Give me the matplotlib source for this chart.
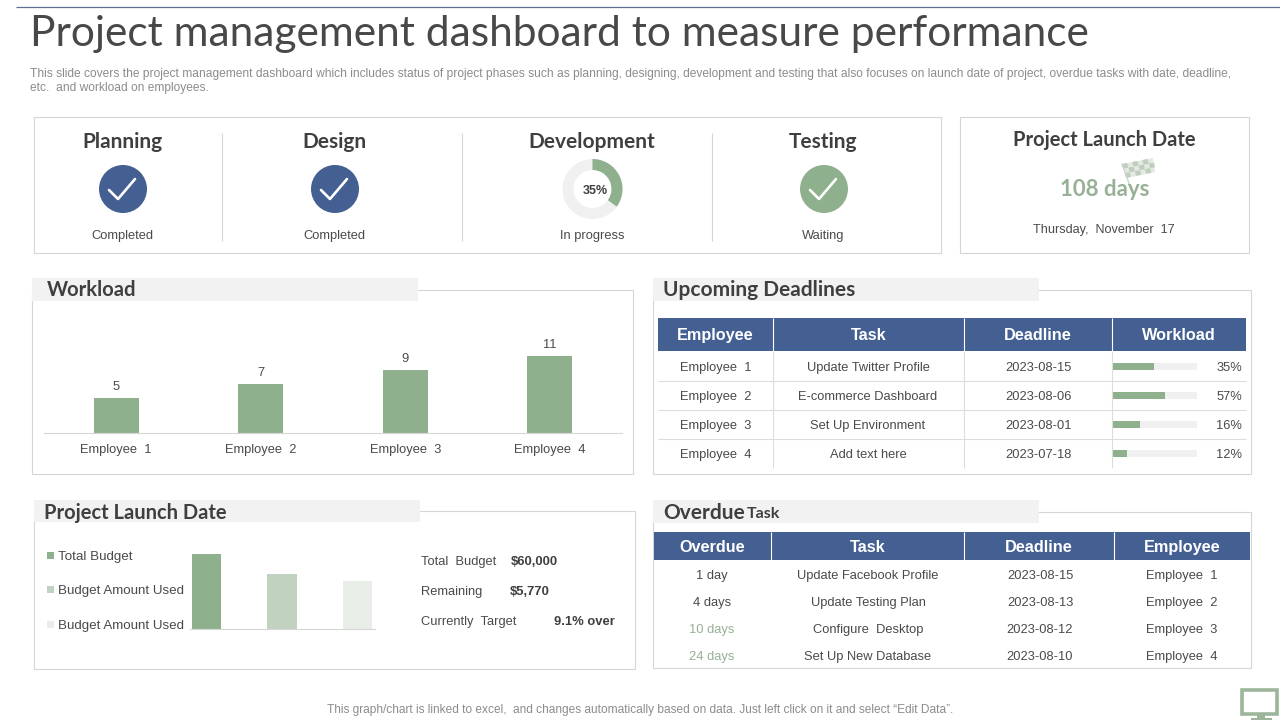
import matplotlib
matplotlib.use("Agg")
import matplotlib.pyplot as plt
from matplotlib.patches import Circle, Polygon, Rectangle, Wedge

BLUE = "#445f92"
GREEN = "#8fb08c"
GREEN_MID = "#c2d2c1"
GREEN_PALE = "#e9ede8"
TRACK = "#f0f0f0"
BORDER = "#d6d6d6"
DARK = "#3f3f3f"
BODY = "#4a4a4a"
GREY = "#8c8c8c"
HEAD_FONT = "Lato"
BODY_FONT = "Liberation Sans"

# status strip
phases = ["Planning", "Design", "Development", "Testing"]
phase_status = ["Completed", "Completed", "In progress", "Waiting"]
dev_progress = 35

# workload chart
employees = ["Employee  1", "Employee  2", "Employee  3", "Employee  4"]
workload_tasks = [5, 7, 9, 11]

# budget chart
budget_labels = ["Total Budget", "Budget Amount Used", "Budget Amount Used"]
budget_values = [60000, 44000, 38400]
budget_summary = ["Total  Budget", "Remaining", "Currently  Target"]
budget_figures = ["$60,000", "$5,770", "9.1% over"]

# upcoming deadlines table
upcoming_head = ["Employee", "Task", "Deadline", "Workload"]
upcoming_tasks = ["Update Twitter Profile", "E-commerce Dashboard", "Set Up Environment", "Add text here"]
upcoming_dates = ["2023-08-15", "2023-08-06", "2023-08-01", "2023-07-18"]
upcoming_pct = [35, 57, 16, 12]
upcoming_fill = [49, 62, 33, 17]  # drawn length of the bars, does not follow the printed %

# overdue table
overdue_head = ["Overdue", "Task", "Deadline", "Employee"]
overdue_days = ["1 day", "4 days", "10 days", "24 days"]
overdue_tasks = ["Update Facebook Profile", "Update Testing Plan", "Configure  Desktop", "Set Up New Database"]
overdue_dates = ["2023-08-15", "2023-08-13", "2023-08-12", "2023-08-10"]

fig = plt.figure(figsize=(12.8, 7.2), dpi=100)
ax = fig.add_axes([0, 0, 1, 1])
ax.set_xlim(0, 1280)
ax.set_ylim(720, 0)
ax.axis("off")


def label(x, y, s, size=9.3, color=BODY, font=BODY_FONT, weight="normal", ha="center"):
    ax.text(x, y, s, fontsize=size, color=color, family=font, fontweight=weight, ha=ha, va="center_baseline")


def box(x0, y0, x1, y1):
    ax.add_patch(Rectangle((x0, y0), x1 - x0, y1 - y0, fc="white", ec=BORDER, lw=0.8))


def panel_title(x0, x1, y0, y1, text, tx, size=14.5, dy=0):
    ax.add_patch(Rectangle((x0, y0), x1 - x0, y1 - y0, fc="#f2f2f2", ec="none", zorder=2))
    ax.text(tx, (y0 + y1) / 2 + dy, text, fontsize=size, color=DARK, family=HEAD_FONT, fontweight="bold",
            ha="left", va="center_baseline", zorder=3)


def vline(x, y0, y1, color=BORDER, lw=0.8):
    ax.plot([x, x], [y0, y1], color=color, lw=lw, solid_capstyle="butt")


def hline(x0, x1, y, color=BORDER, lw=0.8):
    ax.plot([x0, x1], [y, y], color=color, lw=lw, solid_capstyle="butt")


def check_badge(cx, cy, color):
    ax.add_patch(Circle((cx, cy), 24, fc=color, ec="none"))
    ax.plot([cx - 14, cx - 5, cx + 12], [cy + 1, cy + 10, cy - 10], color="white", lw=1.9, solid_capstyle="round")


def header_row(edges, y0, y1, names, dy=0):
    ax.add_patch(Rectangle((edges[0], y0), edges[-1] - edges[0], y1 - y0, fc=BLUE, ec="none"))
    for i, name in enumerate(names):
        label((edges[i] + edges[i + 1]) / 2, (y0 + y1) / 2 + dy, name, size=11.7, color="white", weight="bold")
        if i:
            vline(edges[i], y0, y1, color="white", lw=0.8)


# title block
hline(16, 1280, 6.5, color="#5f7090", lw=0.9)
ax.text(30, 46, "Project management dashboard to measure performance", fontsize=30.6, color="#484848",
        family=HEAD_FONT, fontweight="normal", ha="left", va="baseline")
label(30, 73, "This slide covers the project management dashboard which includes status of project phases such as "
      "planning, designing, development and testing that also focuses on launch date of project, overdue tasks with date, deadline,",
      size=8.64, color=GREY, ha="left")
label(30, 87, "etc.  and workload on employees.", size=8.64, color=GREY, ha="left")

# status strip
box(34, 117, 941, 253)
phase_x = [122, 334, 592, 823]
for x, name, status in zip(phase_x, phases, phase_status):
    label(x, 140, name, size=15, color=DARK, font=HEAD_FONT, weight="bold")
    label(x, 235, status)
for x in [222, 462, 712]:
    vline(x, 133, 241)
check_badge(123, 189, BLUE)
check_badge(335, 189, BLUE)
check_badge(824, 189, GREEN)

# y axis is flipped here, so -90 deg is the top of the ring
ax.add_patch(Wedge((592.5, 189), 30, 0, 360, width=11, fc=TRACK, ec="none"))
ax.add_patch(Wedge((592.5, 189), 30, -90, -90 + dev_progress * 3.6, width=11, fc=GREEN, ec="none"))
label(595, 190, f"{dev_progress}%", size=9, color=DARK, weight="bold")

# launch date card
box(960, 117, 1249, 253)
label(1104, 138, "Project Launch Date", size=14.5, color=DARK, font=HEAD_FONT, weight="bold")
ax.add_patch(Polygon([(1122, 164), (1153, 158), (1155, 172), (1127, 178)], fc="#e4eae3", ec="none"))
for row in range(3):
    for col in range(6):
        if (row + col) % 2 == 0:
            x0 = 1122 + col * 5.1 + row * 1.3
            y0 = 164 + row * 4.6 - col * 1
            ax.add_patch(Polygon([(x0, y0), (x0 + 5.1, y0 - 1), (x0 + 6.4, y0 + 3.6), (x0 + 1.3, y0 + 4.6)],
                                 fc="#bfcebd", ec="none"))
ax.plot([1122, 1130], [164, 186], color="#c9d6c8", lw=1)
label(1105, 188, "108 days", size=16, color="#97b096", font=HEAD_FONT, weight="bold")
label(1104, 229, "Thursday,  November  17", size=9.1)

# workload panel
box(32, 290, 633, 474)
panel_title(32, 418, 278, 301, "Workload", 47, dy=-1)
bar_ax = fig.add_axes([44 / 1280, 1 - 433 / 720, 578 / 1280, 100 / 720])
bar_ax.bar(employees, workload_tasks, width=0.312, color=GREEN)
bar_ax.set_xlim(-0.5, 3.5)
bar_ax.set_ylim(0, 100 / 7)
bar_ax.patch.set_alpha(0)
for side in ["top", "left", "right"]:
    bar_ax.spines[side].set_visible(False)
bar_ax.spines["bottom"].set_color(BORDER)
bar_ax.set_yticks([])
bar_ax.tick_params(axis="x", length=0, pad=8, labelsize=9.3, labelcolor=BODY)
for tick in bar_ax.get_xticklabels():
    tick.set_family(BODY_FONT)
for i, v in enumerate(workload_tasks):
    bar_ax.annotate(str(v), (i, v), xytext=(0, 3.5), textcoords="offset points", ha="center", va="bottom",
                    fontsize=9.3, color=BODY, family=BODY_FONT)

# upcoming deadlines panel
box(653, 290, 1251, 474)
panel_title(653, 1039, 278, 301, "Upcoming Deadlines", 663, size=15, dy=-1)
up_edges = [658, 773, 964, 1112, 1246]
header_row(up_edges, 318, 351, upcoming_head, dy=-0.5)
up_rows = [366, 395, 424, 453]
for y in [380.5, 409.5, 438.5]:
    hline(658, 1246, y, color="#dcdcdc")
for x in up_edges[1:-1]:
    vline(x, 351, 468, color="#dcdcdc")
track_x0, track_len = 1112.5, 84
for y, name, task, date, pct, fill in zip(up_rows, employees, upcoming_tasks, upcoming_dates, upcoming_pct, upcoming_fill):
    label(716, y + 0.5, name)
    label(868, y + 0.5, task)
    label(1039, y + 0.5, date)
    ax.add_patch(Rectangle((track_x0, y - 3.5), track_len, 7.5, fc=TRACK, ec="none"))
    ax.add_patch(Rectangle((track_x0, y - 3.5), track_len * fill / 100, 7.5, fc=GREEN, ec="none"))
    label(1242, y + 0.5, f"{pct}%", ha="right")

# budget panel
box(34, 511, 635, 669)
panel_title(34, 420, 500, 522, "Project Launch Date", 44)
legend_y = [555.5, 589.5, 624]
legend_cols = [GREEN, GREEN_MID, GREEN_PALE]
for y, name, col in zip(legend_y, budget_labels, legend_cols):
    ax.add_patch(Rectangle((47, y - 3.5), 7, 7, fc=col, ec="none"))
    label(58, y, name, size=9.65, ha="left")
budget_ax = fig.add_axes([190 / 1280, 1 - 629 / 720, 185 / 1280, 85 / 720])
budget_ax.bar([0, 1, 2], budget_values, width=0.385, color=legend_cols)
budget_ax.set_xlim(-0.219, 2.232)
budget_ax.set_ylim(0, 68000)
budget_ax.patch.set_alpha(0)
for side in ["top", "left", "right"]:
    budget_ax.spines[side].set_visible(False)
budget_ax.spines["bottom"].set_color(BORDER)
budget_ax.set_xticks([])
budget_ax.set_yticks([])
summary_y = [560.5, 590.5, 620.5]
figure_x = [511, 510, 554]
for y, name, val, fx in zip(summary_y, budget_summary, budget_figures, figure_x):
    label(421, y, name, ha="left")
    label(fx, y, val, size=9.4, color=DARK, weight="bold", ha="left")

# overdue panel
box(653, 512, 1251, 668)
ax.add_patch(Rectangle((653, 500), 386, 23, fc="#f2f2f2", ec="none", zorder=2))
ax.text(663, 511, "Overdue", fontsize=15, color=DARK, family=HEAD_FONT, fontweight="bold",
        ha="left", va="center_baseline", zorder=3)
ax.text(747, 512, "Task", fontsize=11.5, color=DARK, family=HEAD_FONT, fontweight="bold",
        ha="left", va="center_baseline", zorder=3)
ov_edges = [654, 771, 964, 1114, 1250]
header_row(ov_edges, 532, 560, overdue_head)
ov_rows = [574.5, 601.5, 628.5, 655.5]
for i, (y, days, task, date, name) in enumerate(zip(ov_rows, overdue_days, overdue_tasks, overdue_dates, employees)):
    label(712, y, days, color="#97b096" if i >= 2 else BODY)
    label(868, y, task)
    label(1040, y, date)
    label(1182, y, name)

# footer
label(640, 708.5, "This graph/chart is linked to excel,  and changes automatically based on data. Just left click on it and select \u201cEdit Data\u201d.",
      size=8.58, color=GREY)
ax.add_patch(Rectangle((1242, 690), 35, 24, fc="none", ec="#9db59b", lw=2.6))
ax.add_patch(Rectangle((1257, 715), 8, 3, fc="#9db59b", ec="none"))
ax.add_patch(Rectangle((1251, 718), 21, 2, fc="#9db59b", ec="none"))

fig.savefig("out.png", dpi=100)
